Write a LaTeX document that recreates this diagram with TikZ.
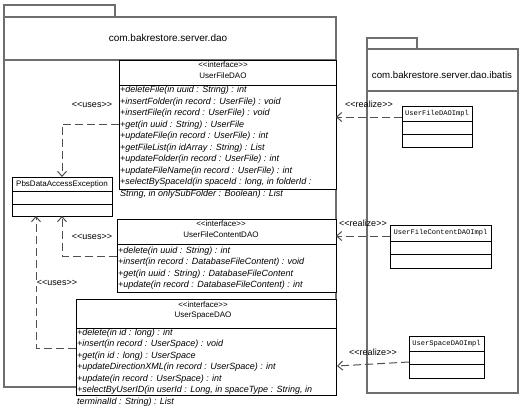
\documentclass[tikz,border=0pt]{standalone}
\usepackage{fontspec}
\setmainfont{Liberation Sans}[Ligatures=TeXOff]
\newfontfamily\implfont{Liberation Mono}[Ligatures=TeXOff]
\usetikzlibrary{arrows.meta}
\definecolor{pkgcol}{HTML}{6E6E6E}
\definecolor{depcol}{HTML}{505050}
\begin{document}
\begin{tikzpicture}[x=1pt,y=-1pt,
  pkgbox/.style={draw=pkgcol,line width=1.3pt,anchor=north west,inner sep=0pt,outer sep=0pt},
  clsbox/.style={draw=black,fill=white,line width=0.8pt,anchor=north west,inner sep=0pt,outer sep=0pt},
  pkgline/.style={draw=pkgcol,line width=1.3pt},
  divline/.style={draw=black,line width=0.8pt},
  hdr/.style={font=\fontsize{8}{9.5}\selectfont,inner sep=0pt},
  pkgtitle/.style={font=\fontsize{10}{12}\selectfont,inner sep=0pt},
  ops/.style={font=\fontsize{9}{11.5}\selectfont\itshape,align=left,anchor=north west,inner sep=0pt},
  impltext/.style={font=\implfont\fontsize{7.1}{9}\selectfont,inner sep=0pt},
  lbl/.style={font=\fontsize{9}{11}\selectfont,inner sep=0pt},
  depline/.style={draw=depcol,line width=1pt,dash pattern=on 8pt off 4pt,-{Straight Barb[length=5pt,width=9pt]}},
]
\useasboundingbox (0,0) rectangle (522,408);

% package com.bakrestore.server.dao
\node[pkgbox,minimum width=111pt,minimum height=12pt] (p1tab) at (4,5) {};
\node[pkgbox,minimum width=332pt,minimum height=370pt] (p1) at (4,17) {};
\draw[pkgline] (4,60) -- (336,60);
\node[pkgtitle] (p1t) at (168,38) {com.bakrestore.server.dao};

% package com.bakrestore.server.dao.ibatis
\node[pkgbox,minimum width=50pt,minimum height=11pt] (p2tab) at (367,38) {};
\node[pkgbox,minimum width=151pt,minimum height=344pt] (p2) at (367,49) {};
\draw[pkgline] (367,91) -- (518,91);
\node[pkgtitle,font=\fontsize{9.7}{12}\selectfont] (p2t) at (442,75) {com.bakrestore.server.dao.ibatis};

% UserFileDAO
\node[clsbox,minimum width=217pt,minimum height=129pt] (ufd) at (119,60) {};
\draw[divline] (119,85) -- (336,85);
\node[hdr] (ufds) at (223,65) {<<interface>>};
\node[hdr] (ufdn) at (223,75.5) {UserFileDAO};
\node[ops] (ufdo) at (120,86) {+deleteFile(in uuid : String) : int\\
+insertFolder(in record : UserFile) : void\\
+insertFile(in record : UserFile) : void\\
+get(in uuid : String) : UserFile\\
+updateFile(in record : UserFile) : int\\
+getFileList(in idArray : String) : List\\
+updateFolder(in record : UserFile) : int\\
+updateFileName(in record : UserFile) : int\\
+selectBySpaceId(in spaceId : long, in folderId :\\
String, in onlySubFolder : Boolean) : List};

% UserFileContentDAO
\node[clsbox,minimum width=219pt,minimum height=73pt] (ufcd) at (117,219) {};
\draw[divline] (117,244) -- (336,244);
\node[hdr] (ufcds) at (221,224) {<<interface>>};
\node[hdr] (ufcdn) at (221,235) {UserFileContentDAO};
\node[ops] (ufcdo) at (118,246.5) {+delete(in uuid : String) : int\\
+insert(in record : DatabaseFileContent) : void\\
+get(in uuid : String) : DatabaseFileContent\\
+update(in record : DatabaseFileContent) : int};

% UserSpaceDAO
\node[clsbox,minimum width=260pt,minimum height=96pt] (usd) at (76,299) {};
\draw[divline] (76,328) -- (336,328);
\node[hdr] (usds) at (203,305) {<<interface>>};
\node[hdr] (usdn) at (203,316) {UserSpaceDAO};
\node[ops] (usdo) at (77,328.5) {+delete(in id : long) : int\\
+insert(in record : UserSpace) : void\\
+get(in id : long) : UserSpace\\
+updateDirectionXML(in record : UserSpace) : int\\
+update(in record : UserSpace) : int\\
+selectByUserID(in userId : Long, in spaceType : String, in\\
terminalId : String) : List};

% PbsDataAccessException
\node[clsbox,minimum width=100pt,minimum height=39pt] (pbs) at (12,177) {};
\draw[divline] (12,191) -- (112,191);
\draw[divline] (12,204) -- (112,204);
\node[hdr] (pbsn) at (62,184) {PbsDataAccessException};

% implementation classes
\node[clsbox,minimum width=70pt,minimum height=41pt] (ufi) at (402,106) {};
\draw[divline] (402,121) -- (472,121);
\draw[divline] (402,134) -- (472,134);
\node[impltext] (ufin) at (437,113.5) {UserFileDAOImpl};

\node[clsbox,minimum width=101pt,minimum height=43pt] (ufci) at (390,225) {};
\draw[divline] (390,241) -- (491,241);
\draw[divline] (390,254) -- (491,254);
\node[impltext] (ufcin) at (440.5,233) {UserFileContentDAOImpl};

\node[clsbox,minimum width=75pt,minimum height=42pt] (usi) at (409,336) {};
\draw[divline] (409,351) -- (484,351);
\draw[divline] (409,364) -- (484,364);
\node[impltext] (usin) at (446.5,343.5) {UserSpaceDAOImpl};

% realize dependencies
\coordinate (r1s) at ([yshift=9.5pt]ufi.west);
\draw[depline] (r1s) -- (r1s -| ufd.east);
\node[lbl] (r1l) at (369,104) {<<realize>>};

\coordinate (r2s) at ([yshift=10.5pt]ufci.west);
\draw[depline] (r2s) -- (r2s -| ufcd.east);
\node[lbl] (r2l) at (363,223) {<<realize>>};

\coordinate (r3s) at ([yshift=-5pt]usi.west);
\coordinate (r3e) at (337,366);
\draw[depline] (r3s) -- (r3e);
\node[lbl] (r3l) at (373,352) {<<realize>>};

% uses dependencies
\coordinate (u1s) at (119,124);
\draw[depline] (u1s) -| (pbs.north);
\node[lbl] (u1l) at (92,105) {<<uses>>};

\coordinate (u2s) at (117,256);
\draw[depline] (u2s) -| (pbs.south);
\node[lbl] (u2l) at (92,237) {<<uses>>};

\coordinate (u3s) at (76,348);
\coordinate (u3c) at (36,348);
\draw[depline] (u3s) -- (u3c) -- (u3c |- pbs.south);
\node[lbl,fill=white,inner sep=0.5pt] (u3l) at (57,283) {<<uses>>};
\end{tikzpicture}
\end{document}
